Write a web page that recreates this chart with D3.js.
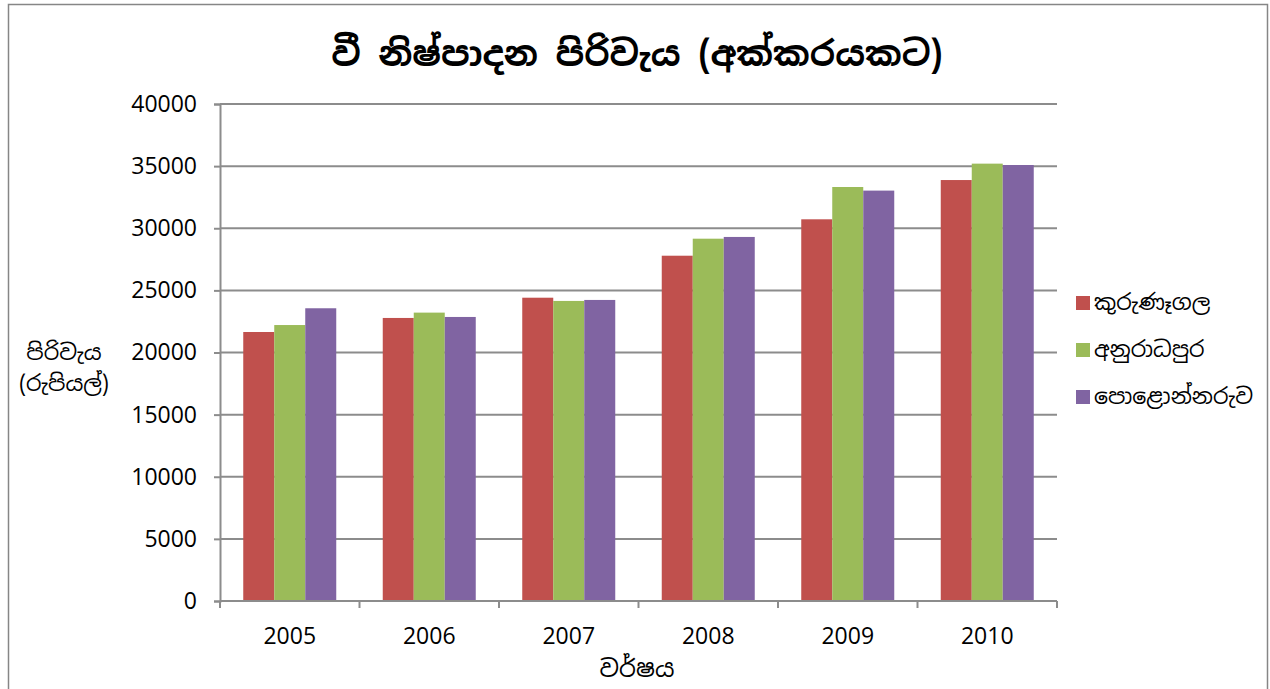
<!DOCTYPE html>
<html>
<head>
<meta charset="utf-8">
<script src="https://cdn.jsdelivr.net/npm/d3@7"></script>
<style>
body { margin:0; background:#fff; }
text { font-family: "Noto Sans Sinhala", "Noto Sans", "Open Sans", sans-serif; fill:#000; }
.tick text { font-family: "Open Sans", "Liberation Sans", sans-serif; }
</style>
</head>
<body>
<div id="graph"></div>
<script>
var years = ['2005','2006','2007','2008','2009','2010']
var seriesNames = ['කුරුණෑගල','අනුරාධපුර','පොළොන්නරුව']
var kurunegala = [21650, 22780, 24410, 27790, 30720, 33880]
var anuradhapura = [22210, 23210, 24150, 29160, 33320, 35200]
var polonnaruwa = [23560, 22860, 24230, 29300, 33030, 35090]
var yTicks = [0,5000,10000,15000,20000,25000,30000,35000,40000]
var colors = ['#C0504D','#9BBB59','#8064A2']

var svg = d3.select('#graph').append('svg')
	.attr('width',1270)
	.attr('height',689)

// chart frame
svg.append('rect')
	.attr('x',8.5).attr('y',4.5)
	.attr('width',1259).attr('height',700)
	.attr('fill','none')
	.attr('stroke','#868686')
	.attr('stroke-width',1.5)

var plotLeft = 220, plotRight = 1057, plotTop = 104, plotBottom = 601

var xScale = d3.scaleBand()
	.domain(years)
	.range([plotLeft, plotRight])
	.paddingInner(1/3)
	.paddingOuter(1/6)

var subScale = d3.scaleBand()
	.domain([0,1,2])
	.range([0, xScale.bandwidth()])

var yScale = d3.scaleLinear()
	.domain([0, 40000])
	.range([plotBottom, plotTop])

// gridlines
svg.append('g')
	.selectAll('line')
	.data(yTicks.filter(function(d){ return d > 0 }))
	.enter().append('line')
	.attr('x1', plotLeft).attr('x2', plotRight)
	.attr('y1', function(d){ return yScale(d) })
	.attr('y2', function(d){ return yScale(d) })
	.attr('stroke','#8c8c8c')
	.attr('stroke-width',2)

// bars
var series = [kurunegala, anuradhapura, polonnaruwa]
series.forEach(function(vals, si){
	svg.append('g')
	.selectAll('rect')
	.data(vals)
	.enter().append('rect')
	.attr('x', function(d,i){ return xScale(years[i]) + subScale(si) })
	.attr('width', subScale.bandwidth())
	.attr('y', function(d){ return yScale(d) })
	.attr('height', function(d){ return plotBottom - yScale(d) })
	.attr('fill', colors[si])
})

// y axis
var yAxis = d3.axisLeft(yScale).tickValues(yTicks).tickSize(6).tickPadding(17).tickFormat(d3.format('d'))
var gy = svg.append('g').attr('transform','translate('+plotLeft+',0)').call(yAxis)
gy.select('.domain').attr('stroke','#8c8c8c').attr('stroke-width',2)
gy.selectAll('.tick line').attr('stroke','#8c8c8c').attr('stroke-width',2)
gy.selectAll('.tick text').attr('font-size',23).attr('fill','#000')

// x axis
var boundaries = d3.range(7).map(function(i){ return plotLeft + i*xScale.step() })
svg.append('line')
	.attr('x1',plotLeft).attr('x2',plotRight)
	.attr('y1',plotBottom).attr('y2',plotBottom)
	.attr('stroke','#8c8c8c').attr('stroke-width',2)
svg.append('g').selectAll('line')
	.data(boundaries)
	.enter().append('line')
	.attr('x1',function(d){ return d }).attr('x2',function(d){ return d })
	.attr('y1',plotBottom).attr('y2',plotBottom+7)
	.attr('stroke','#8c8c8c').attr('stroke-width',2)
svg.append('g').selectAll('text')
	.data(years)
	.enter().append('text')
	.attr('x',function(d){ return xScale(d) + xScale.bandwidth()/2 })
	.attr('y',644)
	.attr('text-anchor','middle')
	.attr('font-size',23)
	.style('font-family','"Open Sans", "Liberation Sans", sans-serif')
	.text(function(d){ return d })

// title
svg.append('text')
	.attr('x',637).attr('y',66)
	.attr('text-anchor','middle')
	.attr('font-size',35)
	.attr('font-weight','bold')
	.text('වී නිෂ්පාදන පිරිවැය (අක්කරයකට)')

// axis titles
svg.append('text')
	.attr('x',637).attr('y',677)
	.attr('text-anchor','middle')
	.attr('font-size',24)
	.text('වර්ෂය')
svg.append('text')
	.attr('x',64).attr('y',360)
	.attr('text-anchor','middle')
	.attr('font-size',22)
	.text('පිරිවැය')
svg.append('text')
	.attr('x',64).attr('y',391)
	.attr('text-anchor','middle')
	.attr('font-size',22)
	.text('(රුපියල්)')

// legend
var legend = svg.append('g').selectAll('g')
	.data(seriesNames)
	.enter().append('g')
	.attr('transform', function(d,i){ return 'translate(1076,'+(296 + i*47)+')' })
legend.append('rect')
	.attr('width',14).attr('height',14)
	.attr('fill', function(d,i){ return colors[i] })
legend.append('text')
	.attr('x',18).attr('y',14)
	.attr('font-size',22)
	.text(function(d){ return d })
</script>
</body>
</html>
